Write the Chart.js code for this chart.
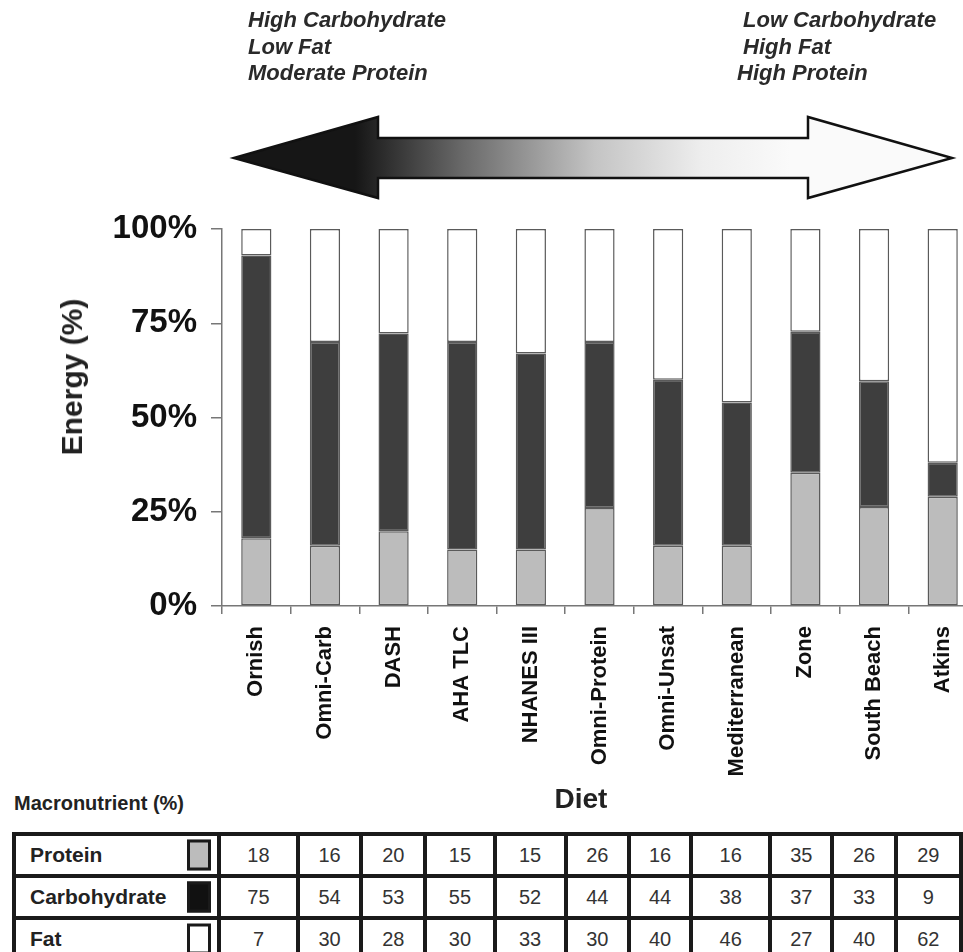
<!DOCTYPE html>
<html>
<head>
<meta charset="utf-8">
<script src="https://cdn.jsdelivr.net/npm/chart.js@4/dist/chart.umd.min.js"></script>
<style>
  html, body { margin: 0; padding: 0; background: #fff; overflow: hidden; width: 963px; height: 952px; }
  body { position: relative; font-family: "Liberation Sans", Arial, Helvetica, sans-serif; color: #1a1a1a; }
  #wrap { position: absolute; left: 0; top: 0; width: 1000px; height: 790px; }
  .note { position: absolute; font-weight: bold; font-style: italic; font-size: 22px; line-height: 26px; white-space: nowrap; color: #2a2a2a; }
  #ytitle { position: absolute; left: 72px; top: 377px; transform: translate(-50%, -50%) rotate(-90deg); font-weight: bold; font-size: 30px; white-space: nowrap; color: #222; }
  #xtitle { position: absolute; left: 581px; top: 799px; transform: translate(-50%, -50%); font-weight: bold; font-size: 28px; white-space: nowrap; color: #222; }
  #macro { position: absolute; left: 14px; top: 803px; transform: translateY(-50%); font-weight: bold; font-size: 20px; white-space: nowrap; color: #222; }
  #tbl { position: absolute; left: 12px; top: 832px; border-collapse: collapse; table-layout: fixed; }
  #tbl td { border: 4px solid #1a1a1a; height: 38px; padding: 0; font-size: 20px; color: #333; text-align: center; vertical-align: middle; }
  #tbl td.lab { text-align: left; padding-left: 14px; font-weight: bold; font-size: 21px; color: #222; position: relative; }
  .sw { position: absolute; right: 6px; top: 50%; transform: translateY(-50%); width: 18px; height: 25px; border: 3px solid #1a1a1a; }
</style>
</head>
<body>
<div id="wrap"><canvas id="c" width="1000" height="790"></canvas></div>
<div id="notes"></div>
<div id="ytitle">Energy (%)</div>
<div id="xtitle">Diet</div>
<div id="macro">Macronutrient (%)</div>
<table id="tbl"></table>
<script>
// ---- data ----
const diets = ['Ornish', 'Omni-Carb', 'DASH', 'AHA TLC', 'NHANES III', 'Omni-Protein', 'Omni-Unsat', 'Mediterranean', 'Zone', 'South Beach', 'Atkins'];
const protein = [18, 16, 20, 15, 15, 26, 16, 16, 35, 26, 29];
const carbohydrate = [75, 54, 53, 55, 52, 44, 44, 38, 37, 33, 9];
const fat = [7, 30, 28, 30, 33, 30, 40, 46, 27, 40, 62];
const yTickLabels = ['0%', '25%', '50%', '75%', '100%'];
const nutrientNames = ['Protein', 'Carbohydrate', 'Fat'];
const leftNotes = ['High Carbohydrate', 'Low Fat', 'Moderate Protein'];
const rightNotes = ['Low Carbohydrate', 'High Fat', 'High Protein'];

// ---- layout / style (not data) ----
const colours = { protein: '#bcbcbc', carbohydrate: '#3e3e3e', fat: '#ffffff' };
const swatchColours = ['#bcbcbc', '#111111', '#ffffff'];
const colWidths = [206, 80, 64, 65, 70, 72, 64, 63, 80, 63, 64, 66];
const rightNoteX = [743, 743, 737];

// Notes above the arrow
const notes = document.getElementById('notes');
leftNotes.forEach((t, i) => {
  const d = document.createElement('div');
  d.className = 'note'; d.textContent = t;
  d.style.left = '248px'; d.style.top = (7 + i * 26.5) + 'px';
  notes.appendChild(d);
});
rightNotes.forEach((t, i) => {
  const d = document.createElement('div');
  d.className = 'note'; d.textContent = t;
  d.style.left = rightNoteX[i] + 'px'; d.style.top = (7 + i * 26.5) + 'px';
  notes.appendChild(d);
});

// Table
const tbl = document.getElementById('tbl');
const cg = document.createElement('colgroup');
colWidths.forEach(w => { const c = document.createElement('col'); c.style.width = w + 'px'; cg.appendChild(c); });
tbl.appendChild(cg);
[protein, carbohydrate, fat].forEach((row, r) => {
  const tr = document.createElement('tr');
  const lab = document.createElement('td');
  lab.className = 'lab';
  lab.textContent = nutrientNames[r];
  const sw = document.createElement('span');
  sw.className = 'sw'; sw.style.background = swatchColours[r];
  lab.appendChild(sw);
  tr.appendChild(lab);
  row.forEach(v => { const td = document.createElement('td'); td.textContent = v; tr.appendChild(td); });
  tbl.appendChild(tr);
});

// Stacked shares (each diet's bar spans 100 %)
const totals = diets.map((_, i) => protein[i] + carbohydrate[i] + fat[i]);
const share = arr => arr.map((v, i) => v / totals[i] * 100);

const arrowPlugin = {
  id: 'arrow',
  beforeDraw(chart) {
    const ctx = chart.ctx;
    ctx.save();
    const g = ctx.createLinearGradient(355, 0, 790, 0);
    g.addColorStop(0, '#161616');
    g.addColorStop(0.25, '#6a6a6a');
    g.addColorStop(0.55, '#c4c4c4');
    g.addColorStop(0.8, '#eeeeee');
    g.addColorStop(1, '#fafafa');
    ctx.beginPath();
    ctx.moveTo(234, 158);
    ctx.lineTo(378, 117);
    ctx.lineTo(378, 138);
    ctx.lineTo(808, 138);
    ctx.lineTo(808, 117);
    ctx.lineTo(952, 158);
    ctx.lineTo(808, 198);
    ctx.lineTo(808, 178);
    ctx.lineTo(378, 178);
    ctx.lineTo(378, 198);
    ctx.closePath();
    ctx.fillStyle = g;
    ctx.fill();
    ctx.lineWidth = 2.5;
    ctx.strokeStyle = '#111';
    ctx.lineJoin = 'miter';
    ctx.stroke();
    ctx.restore();
  }
};

const barCommon = { borderColor: '#5a5a5a', borderWidth: 1.5, borderSkipped: false, barPercentage: 0.44, categoryPercentage: 1.0 };

new Chart(document.getElementById('c'), {
  type: 'bar',
  data: {
    labels: diets,
    datasets: [
      Object.assign({ label: 'Protein', data: share(protein), backgroundColor: colours.protein }, barCommon),
      Object.assign({ label: 'Carbohydrate', data: share(carbohydrate), backgroundColor: colours.carbohydrate }, barCommon),
      Object.assign({ label: 'Fat', data: share(fat), backgroundColor: colours.fat }, barCommon)
    ]
  },
  options: {
    responsive: false,
    animation: false,
    devicePixelRatio: 1,
    layout: { padding: { top: 229, right: 23, left: 0, bottom: 0 } },
    plugins: { legend: { display: false }, tooltip: { enabled: false } },
    scales: {
      x: {
        stacked: true,
        grid: { offset: true, drawOnChartArea: false, drawTicks: true, tickLength: 8, color: '#777', lineWidth: 1.5 },
        border: { color: '#777', width: 1.5 },
        ticks: { autoSkip: false, minRotation: 90, maxRotation: 90, padding: 12, color: '#111',
                 font: { family: '"Liberation Sans", Arial, sans-serif', size: 22, weight: 'bold' } },
        afterFit: s => { s.height = 184; }
      },
      y: {
        stacked: true,
        min: 0, max: 100,
        grid: { drawOnChartArea: false, drawTicks: true, tickLength: 11, color: '#777', lineWidth: 1.5 },
        border: { color: '#777', width: 1.5 },
        ticks: { stepSize: 25, padding: 14, color: '#111',
                 callback: (v, i) => yTickLabels[i],
                 font: { family: '"Liberation Sans", Arial, sans-serif', size: 33, weight: 'bold' } },
        afterFit: s => { s.width = 222; }
      }
    }
  },
  plugins: [arrowPlugin]
});
</script>
</body>
</html>
